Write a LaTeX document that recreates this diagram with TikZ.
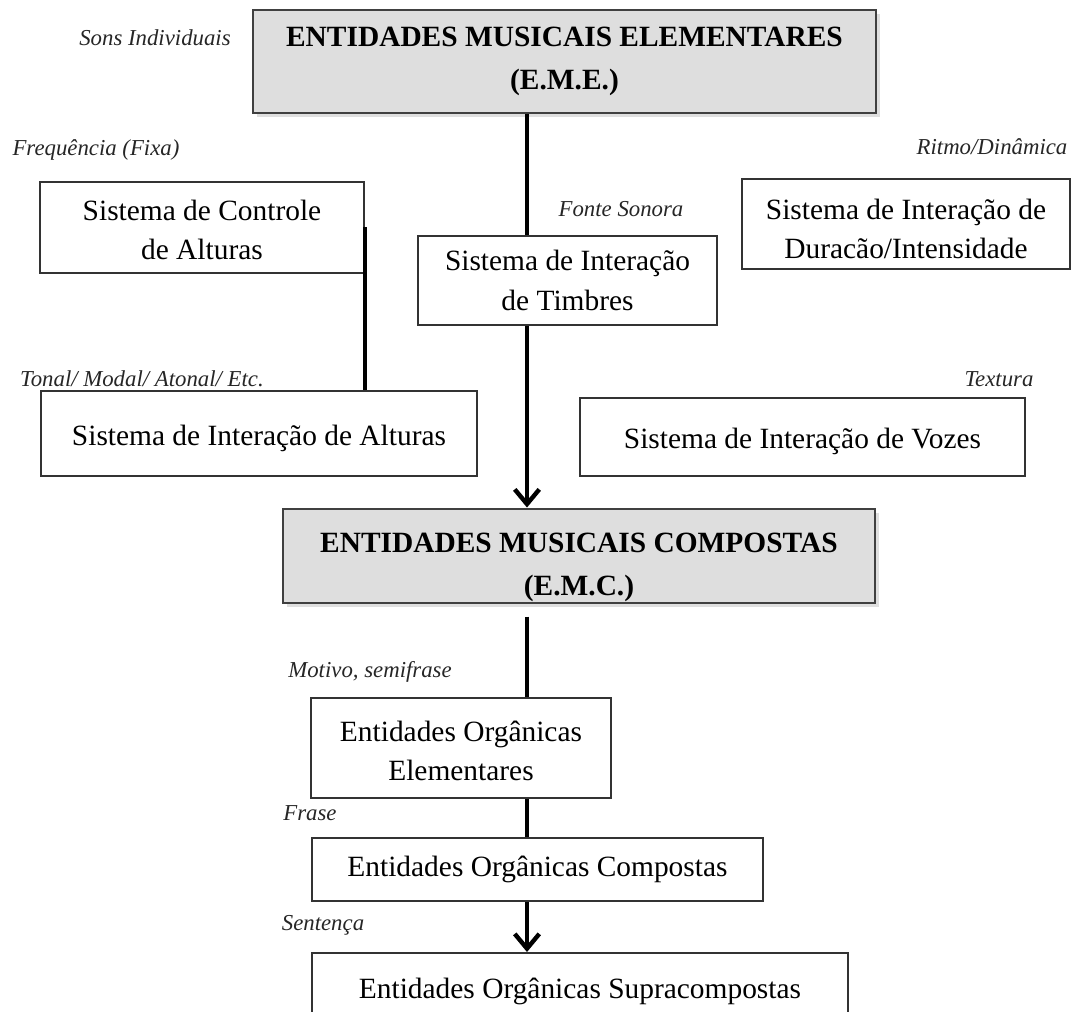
\documentclass[tikz,border=0pt]{standalone}
\usepackage{fontspec}
\setmainfont{Liberation Serif}
\usetikzlibrary{arrows.meta,shadows}
\newcommand{\pxu}{0.408pt}
% text set a little lower than the middle of its box
\newcommand{\lowtxt}[2]{\raisebox{-#1}[\height][\depth]{\begin{tabular}{@{}c@{}}#2\end{tabular}}}

\begin{document}
\begin{tikzpicture}[x=\pxu, y=-\pxu,
    box/.style 2 args={draw=black!80, line width=0.8pt, minimum width=#1*\pxu, minimum height=#2*\pxu,
        inner sep=0pt, align=center, font=\fontsize{12}{16}\selectfont},
    mainbox/.style 2 args={box={#1}{#2}, fill=black!13, draw=black!75, line width=1.2pt,
        font=\fontsize{12}{17.5}\selectfont\bfseries,
        drop shadow={opacity=0.25, shadow xshift=1.5pt, shadow yshift=-1.5pt}},
    tag/.style={font=\fontsize{9.3}{11}\selectfont\itshape, text=black!85, inner sep=0pt},
    spine/.style={line width=1.8pt},
    tip/.style={spine, -{Straight Barb[length=6pt, width=10pt]}}
]
    \useasboundingbox (0,0) rectangle (1073,1011);
    \clip (0,0) rectangle (1073,1011);

    % elementares
    \node[mainbox={623}{103}] (eme) at (564.5,61.5) {ENTIDADES MUSICAIS ELEMENTARES\\(E.M.E.)};
    \node[tag] (sons) at (155,38) {Sons Individuais};

    \node[box={324}{91}] (controle) at (202,227.5) {\lowtxt{2pt}{Sistema de Controle\\de Alturas}};
    \node[tag] (freq) at (96,150) {Frequência (Fixa)};
    \node[box={299}{89}] (timbres) at (567.5,280.5) {Sistema de Interação\\de Timbres};
    \node[tag] (fonte) at (621,209) {Fonte Sonora};
    \node[box={328}{90}] (duracao) at (906,224) {\lowtxt{3pt}{Sistema de Interação de\\Duracão/Intensidade}};
    \node[tag] (ritmo) at (992,147) {Ritmo/Dinâmica};

    \node[box={436}{85}] (alturas) at (259,433.5) {\lowtxt{1.5pt}{Sistema de Interação de Alturas}};
    \node[tag] (tonal) at (142,379) {Tonal/ Modal/ Atonal/ Etc.};
    \node[box={445}{78}] (vozes) at (802.5,437) {\lowtxt{1.5pt}{Sistema de Interação de Vozes}};
    \node[tag] (textura) at (999,379) {Textura};

    % compostas
    \node[mainbox={592}{94}] (emc) at (579,556) {\lowtxt{4pt}{ENTIDADES MUSICAIS COMPOSTAS\\(E.M.C.)}};
    \node[box={300}{100}] (eoe) at (461,748) {\lowtxt{2pt}{Entidades Orgânicas\\Elementares}};
    \node[tag] (motivo) at (370,672) {Motivo, semifrase};
    \node[box={451}{63}] (eoc) at (537.5,869.5) {Entidades Orgânicas Compostas};
    \node[tag] (frase) at (310,813) {Frase};
    \node[box={536}{77}] (eos) at (580,991.5) {Entidades Orgânicas Supracompostas};
    \node[tag] (sentenca) at (323,925) {Sentença};

    \coordinate (sp) at (527,0);
    \draw[spine] (eme.south -| sp) -- (timbres.north -| sp);
    \draw[tip] (timbres.south -| sp) -- (emc.north -| sp);
    \draw[spine] (controle.east) -- (controle.east |- alturas.north);
    \draw[spine, shorten <=5pt] (emc.south -| sp) -- (eoe.north -| sp);
    \draw[spine] (eoe.south -| sp) -- (eoc.north -| sp);
    \draw[tip] (eoc.south -| sp) -- (eos.north -| sp);
\end{tikzpicture}
\end{document}
